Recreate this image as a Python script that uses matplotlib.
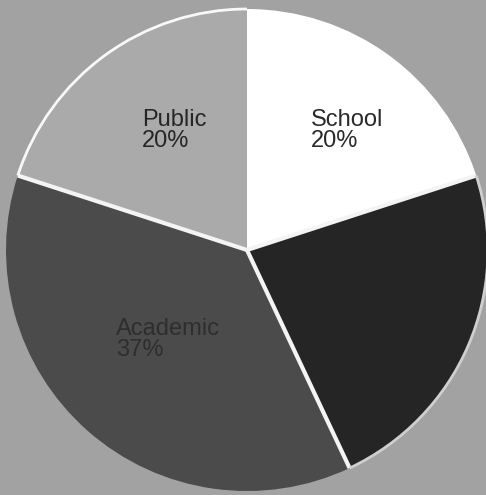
import matplotlib
matplotlib.use("Agg")
import matplotlib.pyplot as plt
from matplotlib.patches import Arc
import numpy as np

# Share of each category (percent), drawn clockwise from 12 o'clock
categories = ["School", "Other", "Academic", "Public"]
shares = [20, 23, 37, 20]
shown_labels = ["School", "", "Academic", "Public"]
colors = ["#ffffff", "#252525", "#4b4b4b", "#aaaaaa"]

W, H = 486, 495
fig = plt.figure(figsize=(W / 100, H / 100), dpi=100)
fig.patch.set_facecolor("#a2a2a2")
ax = fig.add_axes([0, 0, 1, 1])

cx, cy, r = 247, H - 250, 241
wedges, _ = ax.pie(shares, colors=colors, startangle=90, counterclock=False,
                   center=(cx, cy), radius=r, frame=True,
                   wedgeprops=dict(linewidth=0))
ax.set_xlim(0, W)
ax.set_ylim(0, H)
ax.set_aspect("equal")
ax.axis("off")

# white separators between slices (none between Public and School)
cum = np.cumsum(shares)[:-1]
for c in cum:
    a = np.deg2rad(90 - 360 * c / 100)
    ax.plot([cx, cx + r * np.cos(a)], [cy, cy + r * np.sin(a)],
            color="#f4f4f4", lw=3, solid_capstyle="butt", zorder=3)

# light rim on the outer edge of the Public and dark slices
for w, col in [(wedges[3], "#f8f8f8"), (wedges[1], "#cfcfcf")]:
    ax.add_patch(Arc((cx, cy), 2 * r, 2 * r, theta1=w.theta1, theta2=w.theta2,
                     color=col, lw=2, zorder=3))

# category labels with their share underneath
label_pos = {"School": (311, 126), "Public": (142, 126), "Academic": (116, 335)}
text_color = {"School": "#2a2a2a", "Public": "#262626", "Academic": "#2e2e2e"}
for name, val in zip(shown_labels, shares):
    if not name:
        continue
    x, yb = label_pos[name]
    ax.text(x, H - yb, name, fontsize=17, family="Liberation Sans",
            color=text_color[name], ha="left", va="baseline", zorder=4)
    ax.text(x, H - yb - 21, f"{val}%", fontsize=17, family="Liberation Sans",
            color=text_color[name], ha="left", va="baseline", zorder=4)

fig.savefig("out.png", dpi=100, facecolor=fig.get_facecolor())
